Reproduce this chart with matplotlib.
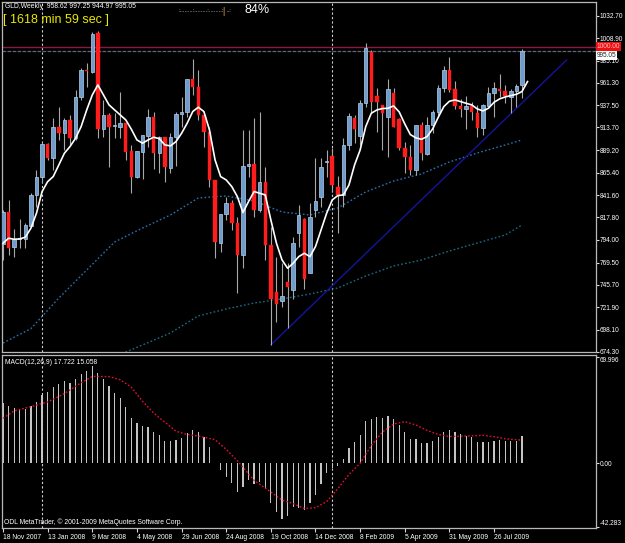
import numpy as np
import matplotlib
matplotlib.use("Agg")
import matplotlib.pyplot as plt

plt.rcParams['font.family'] = ['Liberation Sans', 'DejaVu Sans']

# weekly candles, 18 Nov 2007 .. 30 Aug 2009
opens = [789.0, 824.0, 785.9, 794.4, 794.4, 808.6, 841.7, 861.3, 895.8, 880.9,
         914.6, 907.5, 921.8, 902.2, 946.7, 975.1, 973.3, 1014.2, 912.2, 927.1,
         915.0, 914.6, 918.2, 888.7, 860.6, 888.0, 904.7, 924.6, 886.2, 903.3,
         870.2, 903.3, 928.2, 930.0, 965.5, 957.3, 927.1, 909.3, 857.7, 790.2,
         821.1, 833.5, 811.5, 777.7, 872.7, 874.4, 825.7, 855.9, 788.4, 738.6,
         728.9, 749.2, 740.4, 800.8, 815.7, 758.8, 825.7, 839.2, 877.3, 883.3,
         850.6, 841.7, 895.1, 923.5, 904.7, 939.5, 994.7, 947.4, 937.8, 924.6,
         950.2, 922.5, 892.2, 882.6, 868.4, 916.4, 885.5, 916.4, 930.7, 955.5,
         975.1, 954.5, 936.7, 933.1, 936.7, 929.6, 912.9, 936.7, 950.2, 954.8,
         952.7, 946.7, 952.7, 958.62]
highs = [826.0, 836.4, 805.4, 816.0, 812.2, 843.5, 868.4, 898.6, 896.9, 923.5,
         935.3, 923.5, 927.1, 953.8, 976.9, 982.2, 1015.5, 1017.0, 943.1, 928.9,
         928.9, 952.0, 918.9, 895.0, 888.9, 905.8, 933.5, 930.7, 904.4, 904.0,
         907.5, 930.7, 946.7, 965.8, 986.5, 975.1, 927.5, 914.6, 858.0, 821.5,
         839.9, 836.4, 818.6, 911.1, 911.1, 923.5, 930.7, 872.0, 808.0, 775.9,
         768.8, 768.8, 797.3, 831.0, 816.8, 832.8, 880.9, 880.9, 889.7, 891.5,
         862.0, 902.2, 928.9, 927.1, 943.1, 1004.3, 996.5, 955.5, 938.2, 965.2,
         955.5, 923.5, 898.6, 895.1, 916.8, 920.0, 924.6, 932.4, 959.1, 979.4,
         989.3, 963.7, 943.8, 947.4, 941.3, 937.8, 938.8, 956.6, 962.7, 970.5,
         959.1, 954.5, 959.8, 997.25]
lows = [772.0, 777.7, 775.9, 784.8, 784.8, 807.9, 829.3, 854.2, 879.1, 868.4,
        900.4, 889.7, 895.1, 900.4, 943.1, 957.3, 972.0, 902.2, 904.0, 872.0,
        902.0, 902.2, 879.0, 844.2, 859.5, 858.5, 893.3, 869.1, 864.8, 856.0,
        864.8, 872.7, 914.6, 925.3, 948.4, 921.8, 893.3, 850.6, 774.1, 781.3,
        815.0, 804.4, 736.8, 763.5, 861.3, 818.6, 823.9, 772.4, 681.7, 706.6,
        721.8, 699.5, 730.4, 786.6, 741.1, 758.1, 818.6, 829.3, 861.3, 845.0,
        800.8, 829.3, 889.7, 896.9, 895.1, 936.0, 928.9, 909.3, 889.7, 882.6,
        914.0, 889.7, 864.8, 863.1, 863.1, 879.1, 884.4, 907.5, 927.1, 952.0,
        952.0, 933.1, 924.6, 911.8, 921.8, 904.0, 905.8, 936.0, 924.6, 946.7,
        939.5, 929.6, 936.0, 944.97]
closes = [824.0, 784.8, 794.4, 796.0, 809.7, 841.7, 861.3, 895.8, 880.9, 914.6,
          907.5, 921.8, 902.2, 946.7, 975.1, 974.0, 1013.5, 912.2, 927.1, 914.6,
          915.5, 918.2, 888.0, 860.6, 888.7, 905.4, 924.6, 886.2, 904.0, 871.3,
          903.3, 928.2, 930.7, 965.5, 957.3, 927.1, 909.3, 857.7, 791.2, 821.1,
          832.8, 811.5, 777.7, 872.7, 874.4, 825.7, 855.9, 788.4, 730.4, 725.4,
          734.3, 743.2, 790.2, 820.4, 751.7, 818.6, 835.7, 871.3, 877.8, 852.4,
          841.7, 895.1, 926.0, 911.8, 939.5, 998.2, 941.3, 941.3, 928.9, 954.8,
          914.6, 891.5, 882.6, 868.4, 916.4, 886.2, 916.4, 930.7, 955.5, 975.1,
          953.8, 936.7, 933.5, 936.7, 930.7, 912.9, 937.8, 950.2, 955.9, 953.1,
          947.4, 952.7, 958.2, 995.05]

# fast moving average (white), shifted one bar forward
ma_fast = [790.2, 795.5, 794.4, 794.8, 796.6, 806.2, 822.2, 845.3, 855.9, 861.3,
           873.7, 886.2, 893.3, 902.2, 914.6, 932.4, 948.4, 959.1, 948.4, 937.8,
           932.4, 927.1, 921.8, 911.8, 900.4, 896.9, 900.4, 903.3, 901.8, 895.1,
           894.0, 898.6, 907.5, 918.2, 930.7, 935.3, 930.7, 911.1, 879.1, 861.3,
           857.7, 850.6, 839.9, 822.9, 834.6, 845.3, 843.5, 841.7, 815.1, 790.2,
           772.4, 763.5, 768.8, 775.9, 779.5, 775.9, 786.6, 804.4, 822.2, 836.4,
           841.0, 841.7, 852.4, 873.7, 889.7, 914.6, 928.9, 932.4, 933.9, 934.2,
           936.7, 930.3, 917.5, 906.1, 902.6, 901.1, 904.0, 912.2, 924.6, 936.0,
           941.7, 943.1, 941.3, 939.5, 937.8, 933.5, 931.4, 934.2, 940.6, 944.2,
           946.3, 947.7, 949.1, 952.0, 962.7]

# slower moving averages (blue dotted)
ma_mid_idx = [0, 5, 10, 15, 20, 25, 30, 35, 40, 45, 50, 55, 60, 65, 70, 75, 80, 85, 90, 93]
ma_mid_val = [683.7, 699.0, 731.7, 761.6, 791.5, 806.4, 820.3, 838.5, 840.6, 835.3,
              823.5, 820.3, 827.8, 844.9, 856.6, 864.1, 876.9, 886.5, 895.0, 900.4]
ma_slow_idx = [18, 22, 25, 30, 35, 40, 45, 50, 55, 60, 65, 70, 75, 80, 85, 90, 93]
ma_slow_val = [666.0, 674.1, 681.6, 694.4, 712.6, 720.0, 726.4, 730.7, 736.0, 742.4,
               755.2, 765.9, 772.3, 781.9, 790.4, 799.0, 809.6]

trend_idx = [48, 101]
trend_val = [681.7, 985.7]

# MACD(12,26,9)
macd = [39.4, 37.6, 36.5, 35.4, 35.9, 37.6, 40.3, 44.9, 46.7, 50.0,
        52.2, 53.9, 53.1, 55.7, 59.0, 60.8, 64.1, 59.2, 55.2, 50.9,
        46.4, 42.7, 36.8, 29.5, 26.2, 24.4, 23.5, 20.5, 18.5, 14.7,
        14.3, 15.2, 16.7, 20.0, 21.8, 20.2, 17.4, 10.8, 0.3, -4.8,
        -9.0, -13.0, -19.0, -16.1, -11.2, -13.9, -12.3, -17.4, -26.2, -32.2,
        -37.2, -35.0, -28.9, -30.0, -31.1, -26.7, -21.1, -13.9, -6.8, -3.5,
        -2.0, 2.6, 9.7, 13.6, 18.7, 27.7, 29.3, 30.6, 29.7, 31.0,
        29.3, 24.9, 20.5, 15.8, 15.8, 13.0, 13.0, 14.5, 17.4, 20.5,
        21.6, 20.5, 18.9, 18.0, 17.2, 14.1, 13.6, 14.1, 14.7, 15.2,
        14.7, 14.5, 14.7, 17.722]
sig_idx = [0, 2, 5, 8, 11, 14, 16, 19, 21, 23, 25, 27, 29, 31, 33, 35, 38, 40, 42, 45,
           47, 50, 52, 54, 56, 58, 60, 62, 64, 66, 68, 70, 72, 74, 76, 78, 80, 83, 86,
           88, 90, 93]
sig_val = [29.5, 34.4, 37.2, 40.3, 45.8, 53.0, 57.2, 57.0, 55.0, 50.0, 40.8, 33.0,
           27.0, 21.0, 18.8, 17.8, 15.4, 9.0, 1.5, -11.5, -16.5, -24.5, -26.8, -30.0,
           -29.5, -25.5, -17.0, -7.5, -0.2, 11.5, 20.5, 25.7, 27.3, 25.1, 21.5, 18.8,
           17.5, 17.8, 18.3, 17.4, 16.0, 15.058]

date_idx = [0, 8, 16, 24, 32, 40, 48, 56, 64, 72, 80, 88]
date_labels = ['18 Nov 2007', '13 Jan 2008', '9 Mar 2008', '4 May 2008', '29 Jun 2008',
               '24 Aug 2008', '19 Oct 2008', '14 Dec 2008', '8 Feb 2009', '5 Apr 2009',
               '31 May 2009', '26 Jul 2009']
price_ticks = [1032.70, 1008.90, 985.10, 961.30, 937.50, 913.70, 889.20, 865.40,
               841.60, 817.80, 794.00, 769.50, 745.70, 721.90, 698.10, 674.30]
year_starts = [7, 59]

FS = 4.9   # small terminal font
FSR = 4.7  # right-hand scale labels

W, H = 625, 543
fig = plt.figure(figsize=(W / 100, H / 100), dpi=100, facecolor='black')

def px_axes(x0, y0, x1, y1):
    return fig.add_axes([x0 / W, 1 - y1 / H, (x1 - x0) / W, (y1 - y0) / H])

ax = px_axes(2, 2, 596, 352)
ax2 = px_axes(2, 355, 596, 528)
for a in (ax, ax2):
    a.set_facecolor('black')
    for s in a.spines.values():
        s.set_color('#b8b8b8')
        s.set_linewidth(0.9)
    a.set_xlim(-0.18, 106.27)

n = len(closes)
x = np.arange(n)
o = np.array(opens); c = np.array(closes)
up = c >= o

# price panel
ax.set_ylim(674.1, 1047.6)
ax.vlines(x, lows, highs, color='#a8a8a8', lw=0.8, zorder=2)
body = np.maximum(np.abs(c - o), 0.9)
ax.bar(x[up], body[up], bottom=o[up], width=0.62, color='#6e9ccc',
       edgecolor='#b4d0ec', lw=0.5, zorder=3)
ax.bar(x[~up], body[~up], bottom=c[~up], width=0.62, color='#ff1c1c',
       edgecolor='#ff1c1c', lw=0.3, zorder=3)

ax.plot(ma_mid_idx, ma_mid_val, color='#2a70b0', lw=1.0, ls=(0, (1.2, 1.6)), zorder=1)
ax.plot(ma_slow_idx, ma_slow_val, color='#1c6a80', lw=1.0, ls=(0, (1.2, 1.6)), zorder=1)
ax.plot(np.arange(len(ma_fast)), ma_fast, color='white', lw=1.2, zorder=4)
ax.plot(trend_idx, trend_val, color='#14149c', lw=1.0, zorder=1)

ax.axhline(1000.0, color='#8a1840', lw=1.0, zorder=1)
ax.axhline(closes[-1], color='#5a6878', lw=0.9, ls=(0, (3, 1)), zorder=1)

for a in (ax, ax2):
    for yi in year_starts:
        a.axvline(yi, color='#d0d0d0', lw=0.8, ls=(0, (2, 2)), zorder=0)

ax.yaxis.tick_right()
ax.set_yticks(price_ticks)
ax.set_yticklabels(['%.2f' % v for v in price_ticks])
ax.tick_params(axis='y', colors='#d8d8d8', labelcolor='white', labelsize=FSR,
               length=2.2, width=0.8, pad=0.6)
ax.set_xticks([])

ax.text(1.001, 1000.0, '1000.00', transform=ax.get_yaxis_transform(), fontsize=FSR,
        color='#ffc0c0', va='center', ha='left',
        bbox=dict(boxstyle='square,pad=0.12', fc='#ee1010', ec='none'), zorder=6, clip_on=False)
ax.text(1.001, closes[-1] - 4.5, '%.2f' % closes[-1], transform=ax.get_yaxis_transform(),
        fontsize=FSR, color='#202020', va='center', ha='left',
        bbox=dict(boxstyle='square,pad=0.12', fc='white', ec='none'), zorder=6, clip_on=False)

# MACD panel
ax2.set_ylim(-42.9, 71.3)
ax2.bar(x, macd, width=0.22, color='#c4c4c4', zorder=2)
ax2.plot(sig_idx, sig_val, color='#e01030', lw=1.0, ls=(0, (1.2, 1.4)), zorder=3)
ax2.yaxis.tick_right()
ax2.set_yticks([69.996, 0.0, -42.283])
ax2.set_yticklabels(['69.996', '0.00', '-42.283'])
ax2.tick_params(axis='y', colors='#d8d8d8', labelcolor='white', labelsize=FSR,
                length=2.2, width=0.8, pad=0.6)
lab = ax2.get_yticklabels()
lab[0].set_va('top')
lab[2].set_va('bottom')
ax2.set_xticks(date_idx)
ax2.set_xticklabels(date_labels)
ax2.tick_params(axis='x', colors='#d8d8d8', labelcolor='white', labelsize=FS,
                length=3, width=0.8, pad=1.5)
for t in ax2.get_xticklabels():
    t.set_ha('left')

# header / footer texts
def ftext(px, py, s, **kw):
    fig.text(px / W, 1 - py / H, s, va='center', ha='left', **kw)

ftext(5, 7, 'GLD,Weekly  958.62 997.25 944.97 995.05', fontsize=FS, color='white')
ftext(3, 20, '[ 1618 min 59 sec ]', fontsize=9, color='#e8e800')
ftext(178, 11, ':........:........:........:', fontsize=4.2, color='white')
ftext(222, 11, '|', fontsize=6.5, color='#e8a040')
ftext(226.5, 11, '..:', fontsize=4.2, color='white')
ftext(244, 10, '84%', fontsize=9, color='white')
ftext(5, 362, 'MACD(12,26,9) 17.722 15.058', fontsize=FS, color='white')
ftext(4, 522, 'ODL MetaTrader, \u00a9 2001-2009 MetaQuotes Software Corp.', fontsize=FS,
      color='white')

fig.savefig('out.png', dpi=100, facecolor='black')
